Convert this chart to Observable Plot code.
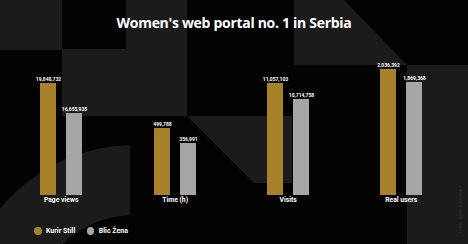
<!DOCTYPE html>
<html>
<head>
<meta charset="utf-8">
<script src="https://cdn.jsdelivr.net/npm/d3@7"></script>
<script src="https://cdn.jsdelivr.net/npm/@observablehq/plot@0.6"></script>
<style>
  html, body { margin: 0; padding: 0; }
  body { width: 468px; height: 244px; background: #030303; position: relative; overflow: hidden; font-family: Roboto, "Open Sans", sans-serif; }
  #bg { position: absolute; left: 0; top: 0; }
  #title { position: absolute; left: 0; width: 468px; top: 12.5px; text-align: center; color: #fff; font-weight: 700; font-size: 14px; font-family: "Open Sans", Roboto, sans-serif; letter-spacing: -0.3px; }
  #charts { position: absolute; left: 4.35px; top: 40px; display: flex; }
  #charts svg { overflow: visible; }
  #legend { position: absolute; left: 34px; top: 227px; display: flex; gap: 11.5px; color: #fff; font-size: 7px; font-weight: 700; }
  #legend .item { display: flex; align-items: center; gap: 4.5px; }
  #legend .dot { width: 7.5px; height: 7.5px; border-radius: 50%; display: inline-block; }
  #source { position: absolute; left: 459px; top: 233px; transform-origin: 0 0; transform: rotate(-90deg); font-size: 3.5px; color: #3a3a3a; white-space: nowrap; letter-spacing: 0.3px; }
</style>
</head>
<body>
<svg id="bg" width="468" height="244">
  <defs><clipPath id="leftclip"><rect x="0" y="0" width="130" height="244"/></clipPath></defs>
  <g fill="#1b1b1b">
    <rect x="0" y="0" width="62" height="50"/>
    <rect x="126" y="0" width="61" height="116"/>
    <rect x="62" y="49" width="64" height="67"/>
    <polygon points="187,116 292,116 292,183 254,183"/>
    <polygon points="294,0 344,0 407,65 294,65"/>
    <rect x="407" y="65" width="61" height="179"/>
    <path clip-path="url(#leftclip)" fill-rule="evenodd" d="M-40,320 a175,175 0 1,0 350,0 a175,175 0 1,0 -350,0 Z M30,320 a105,105 0 1,0 210,0 a105,105 0 1,0 -210,0 Z"/>
  </g>
</svg>
<div id="title">Women's web portal no. 1 in Serbia</div>
<div id="charts"></div>
<div id="legend"></div>
<div id="source">IZVOR: GEMIUS AUDIENCE</div>
<script>
const groups = ["Page views", "Time (h)", "Visits", "Real users"];
const series = ["Kurir Still", "Blic Žena"];
const kurirStil = [19848732, 499788, 11057103, 2036392];
const blicZena = [16655935, 356991, 10714758, 1869368];
const colors = ["#a8812b", "#a6a6a6"];
// per-panel y-scale domains (each metric has its own scale)
const yLo = [7.93e6, -138e3, 8.661e6, 0.417e6];
const yHi = [22.83e6, 1195e3, 11.656e6, 2.216e6];

const fmt = d3.format(",");
const container = document.getElementById("charts");
const W = 113.3;

groups.forEach((g, i) => {
  const rows = [
    {series: series[0], value: kurirStil[i]},
    {series: series[1], value: blicZena[i]}
  ];
  const chart = Plot.plot({
    width: W,
    height: 175,
    marginTop: 15,
    marginBottom: 20,
    marginLeft: (W - 42) / 2,
    marginRight: (W - 42) / 2,
    style: {background: "transparent", overflow: "visible"},
    x: {domain: series, paddingInner: 0.4, paddingOuter: 0, axis: null},
    y: {domain: [yLo[i], yHi[i]], axis: null},
    color: {domain: series, range: colors},
    marks: [
      Plot.barY(rows, {x: "series", y1: yLo[i], y2: "value", fill: "series"}),
      Plot.text(rows, {x: "series", y: "value", text: d => fmt(d.value), dy: -4.5, fill: "#fff", fontSize: 5, fontWeight: 700, fontFamily: "Roboto"}),
      Plot.text([g], {frameAnchor: "bottom", text: d => d, dy: 7, fill: "#fff", fontSize: 6.8, fontWeight: 700, fontFamily: "Roboto"})
    ]
  });
  chart.style.width = W + "px";
  container.appendChild(chart);
});

const legend = document.getElementById("legend");
series.forEach((s, i) => {
  const item = document.createElement("div");
  item.className = "item";
  const dot = document.createElement("span");
  dot.className = "dot";
  dot.style.background = colors[i];
  const label = document.createElement("span");
  label.textContent = s;
  item.appendChild(dot);
  item.appendChild(label);
  legend.appendChild(item);
});
</script>
</body>
</html>
